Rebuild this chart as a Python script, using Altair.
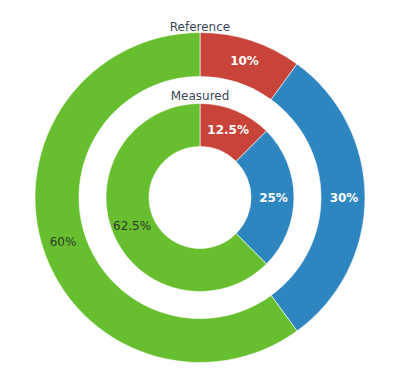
import altair as alt
import pandas as pd

categories = ["A", "B", "C"]
reference_values = [10, 30, 60]
measured_values = [12.5, 25, 62.5]
reference_labels = ["10%", "30%", "60%"]
measured_labels = ["12.5%", "25%", "62.5%"]
colors = ["#c8443a", "#2e86c1", "#67bf2f"]
ring_titles = ["Reference", "Measured"]

rows = []
for ring, vals, labs in [("Reference", reference_values, reference_labels),
                         ("Measured", measured_values, measured_labels)]:
    for i, (c, v, l) in enumerate(zip(categories, vals, labs)):
        rows.append({"ring": ring, "category": c, "value": v, "label": l, "idx": i})
df = pd.DataFrame(rows)

CX, CY = 192, 189.5
FONT = "DejaVu Sans"

color_scale = alt.Scale(domain=categories, range=colors)

def ring_layers(name, inner, outer):
    base = alt.Chart(df).transform_filter(alt.datum.ring == name).transform_calculate(
        light="datum.category == 'C' ? '' : datum.label",
        dark="datum.category == 'C' ? datum.label : ''",
    )
    enc = dict(
        theta=alt.Theta("value:Q", stack=True),
        order=alt.Order("idx:Q"),
        x=alt.value(CX),
        y=alt.value(CY),
    )
    arc = base.mark_arc(innerRadius=inner, outerRadius=outer, stroke="white",
                        strokeWidth=0.6).encode(
        color=alt.Color("category:N", scale=color_scale, legend=None), **enc)
    mid = (inner + outer) / 2 + 1
    light = base.mark_text(radius=mid, font=FONT, fontSize=12, fontWeight="bold",
                           color="white", baseline="middle", align="center").encode(
        text="light:N", **enc)
    dark = base.mark_text(radius=mid, font=FONT, fontSize=12,
                          color="#2f3a2a", baseline="middle", align="center").encode(
        text="dark:N", **enc)
    return [arc, light, dark]

titles_df = pd.DataFrame({"t": ring_titles, "ty": [19, 87.5]})
titles = alt.Chart(titles_df).mark_text(font=FONT, fontSize=12, color="#3a4658",
                                        baseline="middle", align="center").encode(
    text="t:N", x=alt.value(CX), y=alt.Y("ty:Q", scale=None))

layers = ring_layers("Reference", 121, 165) + ring_layers("Measured", 51, 94) + [titles]

chart = alt.layer(*layers).properties(width=380, height=360, padding=0).configure_view(
    stroke=None)

chart.save("out.html", embed_options={"renderer": "svg", "actions": False})
